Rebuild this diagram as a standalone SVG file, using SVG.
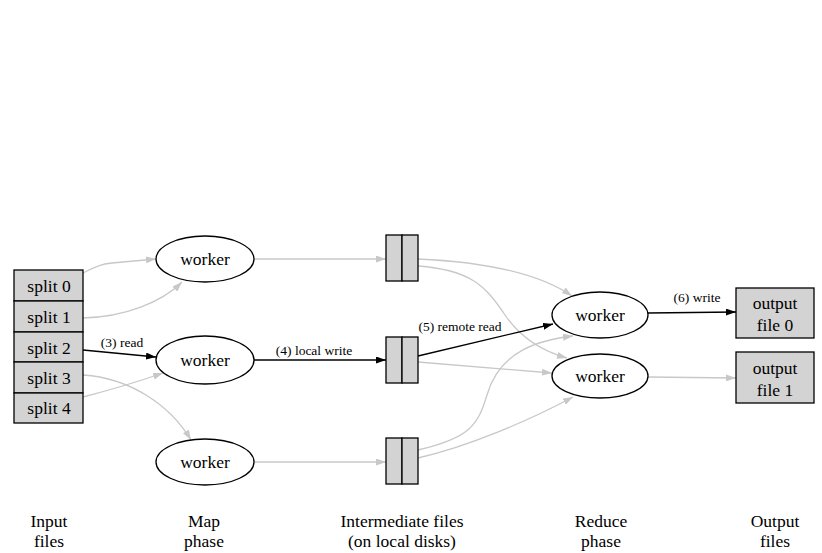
<svg xmlns="http://www.w3.org/2000/svg" width="822" height="553" viewBox="0 0 822 553">
<style>
.t{font-family:'Liberation Serif','Times New Roman','DejaVu Serif',serif;font-size:17.5px;fill:#000;text-anchor:middle}
.l{font-family:'Liberation Serif','Times New Roman','DejaVu Serif',serif;font-size:13.5px;fill:#000;text-anchor:middle}
.box{fill:#d3d3d3;stroke:#000;stroke-width:1.3}
.ell{fill:#fff;stroke:#000;stroke-width:1.3}
.g{fill:none;stroke:#c8c8c8;stroke-width:1.3;marker-end:url(#ag)}
.b{fill:none;stroke:#000;stroke-width:1.3;marker-end:url(#ab)}
</style>
<defs>
<marker id="ag" viewBox="0 0 10 7" refX="10" refY="3.5" markerWidth="10" markerHeight="7" markerUnits="userSpaceOnUse" orient="auto"><path d="M0,0 L10,3.5 L0,7 z" fill="#c8c8c8"/></marker>
<marker id="ab" viewBox="0 0 10 7" refX="10" refY="3.5" markerWidth="10" markerHeight="7" markerUnits="userSpaceOnUse" orient="auto"><path d="M0,0 L10,3.5 L0,7 z" fill="#000"/></marker>
</defs>
<rect width="822" height="553" fill="#fff"/>
<g id="connectors">
<path class="g" d="M83,273 C93,268 100,264 112,263 L156,259"/>
<path class="g" d="M83,318 C125,317 162,302 182,282"/>
<path class="b" d="M83,350 L156,357"/>
<path class="g" d="M83,375 C130,378 170,405 191,440"/>
<path class="g" d="M83,397 C110,390 140,381 163,373"/>
<path class="g" d="M254,259 L386,259"/>
<path class="b" d="M254,360 L386,360"/>
<path class="g" d="M254,462 L386,462"/>
<path class="g" d="M418,259 C485,262 540,274 572,296"/>
<path class="g" d="M418,266 C470,270 485,285 505,315 C522,340 545,352 567,358"/>
<path class="b" d="M418,356 L553,324"/>
<path class="g" d="M418,362 L552,373"/>
<path class="g" d="M418,450 C470,438 478,425 487,395 C500,350 540,340 573,336"/>
<path class="g" d="M418,458 C470,446 530,420 573,397"/>
<path class="b" d="M648,313 L736,312"/>
<path class="g" d="M648,377 L736,378"/>
<text class="l" x="122" y="347">(3) read</text>
<text class="l" x="314" y="355">(4) local write</text>
<text class="l" x="460" y="331">(5) remote read</text>
<text class="l" x="697" y="302">(6) write</text>
</g>
<g id="input">
<rect class="box" x="14" y="270" width="69" height="31"/>
<rect class="box" x="14" y="301" width="69" height="31"/>
<rect class="box" x="14" y="332" width="69" height="30"/>
<rect class="box" x="14" y="362" width="69" height="31"/>
<rect class="box" x="14" y="393" width="69" height="30"/>
<text class="t" x="49" y="292">split 0</text>
<text class="t" x="49" y="323">split 1</text>
<text class="t" x="49" y="354">split 2</text>
<text class="t" x="49" y="384">split 3</text>
<text class="t" x="49" y="414">split 4</text>
</g>
<g id="map1"><ellipse class="ell" cx="205" cy="259" rx="49" ry="23"/><text class="t" x="205" y="265">worker</text></g>
<g id="map2"><ellipse class="ell" cx="205" cy="360" rx="49" ry="24"/><text class="t" x="205" y="366">worker</text></g>
<g id="map3"><ellipse class="ell" cx="205" cy="462" rx="49" ry="23"/><text class="t" x="205" y="468">worker</text></g>
<g id="file1"><rect class="box" x="386" y="235" width="16" height="46"/><rect class="box" x="402" y="235" width="16" height="46"/></g>
<g id="file2"><rect class="box" x="386" y="337" width="16" height="46"/><rect class="box" x="402" y="337" width="16" height="46"/></g>
<g id="file3"><rect class="box" x="386" y="438" width="16" height="46"/><rect class="box" x="402" y="438" width="16" height="46"/></g>
<g id="reduce1"><ellipse class="ell" cx="600" cy="315" rx="48" ry="23"/><text class="t" x="600" y="321">worker</text></g>
<g id="reduce2"><ellipse class="ell" cx="600" cy="376" rx="48" ry="22"/><text class="t" x="600" y="382">worker</text></g>
<g id="out0"><rect class="box" x="736" y="288" width="78" height="50"/><text class="t" x="775" y="309">output</text><text class="t" x="775" y="331">file 0</text></g>
<g id="out1"><rect class="box" x="736" y="352" width="78" height="51"/><text class="t" x="775" y="374">output</text><text class="t" x="775" y="396">file 1</text></g>
<g id="labels">
<text class="t" x="49" y="527">Input</text><text class="t" x="49" y="547">files</text>
<text class="t" x="204" y="527">Map</text><text class="t" x="204" y="547">phase</text>
<text class="t" x="402" y="527">Intermediate files</text><text class="t" x="402" y="547">(on local disks)</text>
<text class="t" x="601" y="527">Reduce</text><text class="t" x="601" y="547">phase</text>
<text class="t" x="775" y="527">Output</text><text class="t" x="775" y="547">files</text>
</g>
</svg>
